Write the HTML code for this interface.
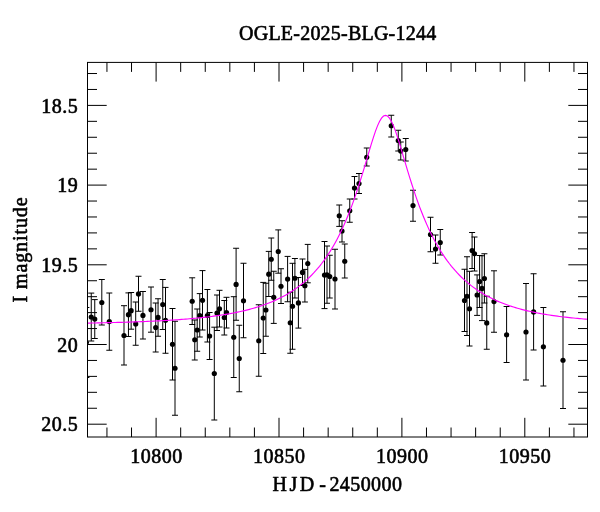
<!DOCTYPE html>
<html><head><meta charset="utf-8"><title>OGLE-2025-BLG-1244</title>
<style>
html,body{margin:0;padding:0;background:#fff;}
body{width:600px;height:512px;overflow:hidden;}
svg{display:block;}
text{font-family:"Liberation Serif","DejaVu Serif",serif;font-size:20px;fill:#000;stroke:#000;stroke-width:0.6px;stroke-linejoin:round;}
</style></head><body>
<svg width="600" height="512" viewBox="0 0 600 512">
<rect width="600" height="512" fill="#fff"/>
<defs><clipPath id="c"><rect x="87.5" y="62.4" width="500" height="374.6"/></clipPath></defs>
<path d="M106.94 437.00V427.50M106.94 62.40V71.90M131.52 437.00V427.50M131.52 62.40V71.90M156.10 437.00V417.80M156.10 62.40V81.60M180.68 437.00V427.50M180.68 62.40V71.90M205.26 437.00V427.50M205.26 62.40V71.90M229.84 437.00V427.50M229.84 62.40V71.90M254.42 437.00V427.50M254.42 62.40V71.90M279.00 437.00V417.80M279.00 62.40V81.60M303.58 437.00V427.50M303.58 62.40V71.90M328.16 437.00V427.50M328.16 62.40V71.90M352.74 437.00V427.50M352.74 62.40V71.90M377.32 437.00V427.50M377.32 62.40V71.90M401.90 437.00V417.80M401.90 62.40V81.60M426.48 437.00V427.50M426.48 62.40V71.90M451.06 437.00V427.50M451.06 62.40V71.90M475.64 437.00V427.50M475.64 62.40V71.90M500.22 437.00V427.50M500.22 62.40V71.90M524.80 437.00V417.80M524.80 62.40V81.60M549.38 437.00V427.50M549.38 62.40V71.90M573.96 437.00V427.50M573.96 62.40V71.90M87.50 73.52H97.00M587.50 73.52H578.00M87.50 89.46H97.00M587.50 89.46H578.00M87.50 105.40H106.70M587.50 105.40H568.30M87.50 121.34H97.00M587.50 121.34H578.00M87.50 137.28H97.00M587.50 137.28H578.00M87.50 153.22H97.00M587.50 153.22H578.00M87.50 169.16H97.00M587.50 169.16H578.00M87.50 185.10H106.70M587.50 185.10H568.30M87.50 201.04H97.00M587.50 201.04H578.00M87.50 216.98H97.00M587.50 216.98H578.00M87.50 232.92H97.00M587.50 232.92H578.00M87.50 248.86H97.00M587.50 248.86H578.00M87.50 264.80H106.70M587.50 264.80H568.30M87.50 280.74H97.00M587.50 280.74H578.00M87.50 296.68H97.00M587.50 296.68H578.00M87.50 312.62H97.00M587.50 312.62H578.00M87.50 328.56H97.00M587.50 328.56H578.00M87.50 344.50H106.70M587.50 344.50H568.30M87.50 360.44H97.00M587.50 360.44H578.00M87.50 376.38H97.00M587.50 376.38H578.00M87.50 392.32H97.00M587.50 392.32H578.00M87.50 408.26H97.00M587.50 408.26H578.00M87.50 424.20H106.70M587.50 424.20H568.30" stroke="#000" stroke-width="1" fill="none"/>
<g clip-path="url(#c)">
<path d="M86.40 307.50V377.50M83.40 307.50H89.40M83.40 377.50H89.40M91.25 293.10V341.00M88.25 293.10H94.25M88.25 341.00H94.25M94.75 299.60V338.50M91.75 299.60H97.75M91.75 338.50H97.75M101.80 279.50V325.00M98.80 279.50H104.80M98.80 325.00H104.80M109.30 293.00V350.25M106.30 293.00H112.30M106.30 350.25H112.30M124.00 305.70V365.00M121.00 305.70H127.00M121.00 365.00H127.00M128.45 292.90V336.50M125.45 292.90H131.45M125.45 336.50H131.45M131.15 292.50V329.20M128.15 292.50H134.15M128.15 329.20H134.15M135.70 302.00V345.25M132.70 302.00H138.70M132.70 345.25H138.70M138.50 276.25V311.25M135.50 276.25H141.50M135.50 311.25H141.50M142.95 291.50V339.00M139.95 291.50H145.95M139.95 339.00H145.95M151.00 287.00V332.20M148.00 287.00H154.00M148.00 332.20H154.00M155.70 303.00V352.00M152.70 303.00H158.70M152.70 352.00H158.70M158.05 298.75V336.25M155.05 298.75H161.05M155.05 336.25H161.05M162.75 279.50V329.50M159.75 279.50H165.75M159.75 329.50H165.75M165.50 287.40V353.25M162.50 287.40H168.50M162.50 353.25H168.50M172.50 308.50V380.00M169.50 308.50H175.50M169.50 380.00H175.50M175.00 321.25V415.25M172.00 321.25H178.00M172.00 415.25H178.00M192.20 277.80V324.50M189.20 277.80H195.20M189.20 324.50H195.20M194.75 320.00V360.00M191.75 320.00H197.75M191.75 360.00H197.75M197.20 309.00V351.25M194.20 309.00H200.20M194.20 351.25H200.20M199.75 293.60V337.00M196.75 293.60H202.75M196.75 337.00H202.75M202.50 270.60V330.00M199.50 270.60H205.50M199.50 330.00H205.50M207.40 289.50V342.00M204.40 289.50H210.40M204.40 342.00H210.40M209.60 312.50V359.50M206.60 312.50H212.60M206.60 359.50H212.60M214.30 327.20V420.00M211.30 327.20H217.30M211.30 420.00H217.30M217.00 295.00V330.50M214.00 295.00H220.00M214.00 330.50H220.00M219.50 290.30V327.00M216.50 290.30H222.50M216.50 327.00H222.50M224.30 300.50V335.00M221.30 300.50H227.30M221.30 335.00H227.30M226.50 297.30V328.00M223.50 297.30H229.50M223.50 328.00H229.50M233.75 296.70V377.50M230.75 296.70H236.75M230.75 377.50H236.75M236.10 248.25V320.25M233.10 248.25H239.10M233.10 320.25H239.10M239.25 325.25V391.75M236.25 325.25H242.25M236.25 391.75H242.25M243.50 263.25V337.75M240.50 263.25H246.50M240.50 337.75H246.50M258.75 304.75V376.25M255.75 304.75H261.75M255.75 376.25H261.75M263.25 282.40V353.50M260.25 282.40H266.25M260.25 353.50H266.25M265.90 283.25V336.25M262.90 283.25H268.90M262.90 336.25H268.90M268.75 251.40V296.50M265.75 251.40H271.75M265.75 296.50H271.75M271.25 238.00V280.25M268.25 238.00H274.25M268.25 280.25H274.25M273.75 271.25V323.40M270.75 271.25H276.75M270.75 323.40H276.75M278.25 229.90V273.20M275.25 229.90H281.25M275.25 273.20H281.25M281.00 268.75V303.50M278.00 268.75H284.00M278.00 303.50H284.00M287.60 256.40V301.75M284.60 256.40H290.60M284.60 301.75H290.60M290.25 292.25V353.25M287.25 292.25H293.25M287.25 353.25H293.25M292.50 263.30V349.25M289.50 263.30H295.50M289.50 349.25H295.50M294.90 258.50V298.00M291.90 258.50H297.90M291.90 298.00H297.90M298.40 277.50V328.10M295.40 277.50H301.40M295.40 328.10H301.40M302.50 259.00V285.50M299.50 259.00H305.50M299.50 285.50H305.50M304.90 269.40V302.00M301.90 269.40H307.90M301.90 302.00H307.90M307.75 244.40V282.80M304.75 244.40H310.75M304.75 282.80H310.75M324.50 241.50V308.60M321.50 241.50H327.50M321.50 308.60H327.50M327.00 246.00V303.25M324.00 246.00H330.00M324.00 303.25H330.00M329.75 255.25V298.00M326.75 255.25H332.75M326.75 298.00H332.75M335.00 249.25V309.00M332.00 249.25H338.00M332.00 309.00H338.00M339.25 205.00V226.40M336.25 205.00H342.25M336.25 226.40H342.25M342.00 220.75V242.00M339.00 220.75H345.00M339.00 242.00H345.00M344.75 244.00V278.00M341.75 244.00H347.75M341.75 278.00H347.75M349.75 199.00V222.25M346.75 199.00H352.75M346.75 222.25H352.75M354.50 176.50V199.00M351.50 176.50H357.50M351.50 199.00H357.50M359.00 173.50V193.50M356.00 173.50H362.00M356.00 193.50H362.00M366.75 148.00V166.00M363.75 148.00H369.75M363.75 166.00H369.75M391.25 115.25V137.00M388.25 115.25H394.25M388.25 137.00H394.25M398.25 130.25V151.00M395.25 130.25H401.25M395.25 151.00H401.25M400.75 142.00V160.00M397.75 142.00H403.75M397.75 160.00H403.75M405.75 138.50V161.00M402.75 138.50H408.75M402.75 161.00H408.75M413.00 190.25V221.25M410.00 190.25H416.00M410.00 221.25H416.00M430.50 217.25V251.75M427.50 217.25H433.50M427.50 251.75H433.50M435.50 235.00V263.25M432.50 235.00H438.50M432.50 263.25H438.50M440.25 229.50V255.00M437.25 229.50H443.25M437.25 255.00H443.25M464.50 269.25V331.50M461.50 269.25H467.50M461.50 331.50H467.50M467.00 256.75V335.50M464.00 256.75H470.00M464.00 335.50H470.00M469.50 271.30V346.00M466.50 271.30H472.50M466.50 346.00H472.50M472.10 232.50V268.50M469.10 232.50H475.10M469.10 268.50H475.10M474.50 237.00V271.00M471.50 237.00H477.50M471.50 271.00H477.50M477.10 274.90V315.40M474.10 274.90H480.10M474.10 315.40H480.10M479.60 255.50V307.50M476.60 255.50H482.60M476.60 307.50H482.60M482.00 255.75V320.60M479.00 255.75H485.00M479.00 320.60H485.00M484.40 253.75V303.00M481.40 253.75H487.40M481.40 303.00H487.40M486.75 296.25V349.25M483.75 296.25H489.75M483.75 349.25H489.75M494.00 270.80V332.25M491.00 270.80H497.00M491.00 332.25H497.00M506.60 306.50V362.50M503.60 306.50H509.60M503.60 362.50H509.60M526.00 283.50V380.00M523.00 283.50H529.00M523.00 380.00H529.00M533.60 273.75V350.00M530.60 273.75H536.60M530.60 350.00H536.60M543.40 307.50V386.00M540.40 307.50H546.40M540.40 386.00H546.40M563.00 311.75V408.50M560.00 311.75H566.00M560.00 408.50H566.00" stroke="#000" stroke-width="1" fill="none"/>
<circle cx="86.40" cy="342.50" r="2.6"/><circle cx="91.25" cy="317.00" r="2.6"/><circle cx="94.75" cy="319.00" r="2.6"/><circle cx="101.80" cy="302.50" r="2.6"/><circle cx="109.30" cy="321.60" r="2.6"/><circle cx="124.00" cy="335.50" r="2.6"/><circle cx="128.45" cy="314.70" r="2.6"/><circle cx="131.15" cy="310.70" r="2.6"/><circle cx="135.70" cy="323.90" r="2.6"/><circle cx="138.50" cy="293.90" r="2.6"/><circle cx="142.95" cy="315.40" r="2.6"/><circle cx="151.00" cy="309.75" r="2.6"/><circle cx="155.70" cy="327.60" r="2.6"/><circle cx="158.05" cy="317.40" r="2.6"/><circle cx="162.75" cy="304.50" r="2.6"/><circle cx="165.50" cy="320.25" r="2.6"/><circle cx="172.50" cy="344.25" r="2.6"/><circle cx="175.00" cy="368.25" r="2.6"/><circle cx="192.20" cy="301.25" r="2.6"/><circle cx="194.75" cy="339.75" r="2.6"/><circle cx="197.20" cy="330.00" r="2.6"/><circle cx="199.75" cy="315.50" r="2.6"/><circle cx="202.50" cy="300.30" r="2.6"/><circle cx="207.40" cy="315.50" r="2.6"/><circle cx="209.60" cy="336.00" r="2.6"/><circle cx="214.30" cy="373.50" r="2.6"/><circle cx="217.00" cy="313.00" r="2.6"/><circle cx="219.50" cy="308.75" r="2.6"/><circle cx="224.30" cy="317.50" r="2.6"/><circle cx="226.50" cy="312.50" r="2.6"/><circle cx="233.75" cy="337.25" r="2.6"/><circle cx="236.10" cy="284.40" r="2.6"/><circle cx="239.25" cy="358.50" r="2.6"/><circle cx="243.50" cy="300.75" r="2.6"/><circle cx="258.75" cy="340.75" r="2.6"/><circle cx="263.25" cy="318.00" r="2.6"/><circle cx="265.90" cy="310.00" r="2.6"/><circle cx="268.75" cy="274.20" r="2.6"/><circle cx="271.25" cy="259.25" r="2.6"/><circle cx="273.75" cy="297.25" r="2.6"/><circle cx="278.25" cy="251.50" r="2.6"/><circle cx="281.00" cy="286.25" r="2.6"/><circle cx="287.60" cy="279.10" r="2.6"/><circle cx="290.25" cy="322.75" r="2.6"/><circle cx="292.50" cy="306.25" r="2.6"/><circle cx="294.90" cy="278.25" r="2.6"/><circle cx="298.40" cy="302.90" r="2.6"/><circle cx="302.50" cy="272.40" r="2.6"/><circle cx="304.90" cy="285.75" r="2.6"/><circle cx="307.75" cy="263.50" r="2.6"/><circle cx="324.50" cy="275.10" r="2.6"/><circle cx="327.00" cy="274.75" r="2.6"/><circle cx="329.75" cy="276.50" r="2.6"/><circle cx="335.00" cy="279.00" r="2.6"/><circle cx="339.25" cy="215.75" r="2.6"/><circle cx="342.00" cy="231.00" r="2.6"/><circle cx="344.75" cy="261.25" r="2.6"/><circle cx="349.75" cy="210.75" r="2.6"/><circle cx="354.50" cy="188.00" r="2.6"/><circle cx="359.00" cy="183.50" r="2.6"/><circle cx="366.75" cy="157.25" r="2.6"/><circle cx="391.25" cy="125.75" r="2.6"/><circle cx="398.25" cy="140.50" r="2.6"/><circle cx="400.75" cy="151.00" r="2.6"/><circle cx="405.75" cy="149.50" r="2.6"/><circle cx="413.00" cy="205.60" r="2.6"/><circle cx="430.50" cy="234.50" r="2.6"/><circle cx="435.50" cy="249.00" r="2.6"/><circle cx="440.25" cy="242.50" r="2.6"/><circle cx="464.50" cy="300.50" r="2.6"/><circle cx="467.00" cy="296.25" r="2.6"/><circle cx="469.50" cy="308.75" r="2.6"/><circle cx="472.10" cy="250.50" r="2.6"/><circle cx="474.50" cy="253.80" r="2.6"/><circle cx="477.10" cy="295.00" r="2.6"/><circle cx="479.60" cy="281.50" r="2.6"/><circle cx="482.00" cy="288.40" r="2.6"/><circle cx="484.40" cy="278.50" r="2.6"/><circle cx="486.75" cy="322.90" r="2.6"/><circle cx="494.00" cy="301.60" r="2.6"/><circle cx="506.60" cy="334.75" r="2.6"/><circle cx="526.00" cy="332.00" r="2.6"/><circle cx="533.60" cy="311.90" r="2.6"/><circle cx="543.40" cy="346.75" r="2.6"/><circle cx="563.00" cy="360.25" r="2.6"/>
<path d="M87.5 323.10 L89.5 323.07 L91.5 323.03 L93.5 322.99 L95.5 322.95 L97.5 322.91 L99.5 322.87 L101.5 322.82 L103.5 322.78 L105.5 322.73 L107.5 322.69 L109.5 322.64 L111.5 322.59 L113.5 322.54 L115.5 322.49 L117.5 322.43 L119.5 322.38 L121.5 322.32 L123.5 322.26 L125.5 322.20 L127.5 322.14 L129.5 322.07 L131.5 322.00 L133.5 321.94 L135.5 321.86 L137.5 321.79 L139.5 321.72 L141.5 321.64 L143.5 321.56 L145.5 321.48 L147.5 321.39 L149.5 321.30 L151.5 321.21 L153.5 321.12 L155.5 321.02 L157.5 320.92 L159.5 320.82 L161.5 320.71 L163.5 320.60 L165.5 320.49 L167.5 320.37 L169.5 320.25 L171.5 320.12 L173.5 319.99 L175.5 319.86 L177.5 319.72 L179.5 319.58 L181.5 319.43 L183.5 319.27 L185.5 319.11 L187.5 318.95 L189.5 318.78 L191.5 318.60 L193.5 318.42 L195.5 318.23 L197.5 318.04 L199.5 317.83 L201.5 317.62 L203.5 317.41 L205.5 317.18 L207.5 316.95 L209.5 316.70 L211.5 316.45 L213.5 316.19 L215.5 315.92 L217.5 315.64 L219.5 315.35 L221.5 315.04 L223.5 314.73 L225.5 314.40 L227.5 314.06 L229.5 313.71 L231.5 313.35 L233.5 312.97 L235.5 312.57 L237.5 312.16 L239.5 311.73 L241.5 311.29 L243.5 310.83 L245.5 310.35 L247.5 309.85 L249.5 309.33 L251.5 308.79 L253.5 308.22 L255.5 307.64 L257.5 307.02 L259.5 306.39 L261.5 305.72 L263.5 305.03 L265.5 304.31 L267.5 303.56 L269.5 302.78 L271.5 301.96 L273.5 301.11 L275.5 300.22 L277.5 299.29 L279.5 298.32 L281.5 297.31 L283.5 296.25 L285.5 295.15 L287.5 294.00 L289.5 292.79 L291.5 291.53 L293.5 290.21 L295.5 288.83 L297.5 287.39 L299.5 285.89 L301.5 284.31 L303.5 282.66 L305.5 280.93 L307.5 279.12 L309.5 277.22 L311.5 275.23 L313.5 273.15 L315.5 270.96 L317.5 268.67 L319.5 266.27 L321.5 263.75 L323.5 261.10 L325.5 258.32 L327.5 255.41 L329.5 252.34 L331.5 249.13 L333.5 245.75 L335.5 242.20 L337.5 238.47 L339.5 234.55 L341.5 230.44 L343.5 226.12 L345.5 221.58 L347.5 216.82 L349.5 211.82 L351.5 206.59 L353.5 201.11 L355.5 195.40 L357.5 189.44 L359.5 183.26 L361.5 176.87 L363.5 170.30 L365.5 163.59 L367.5 156.81 L369.5 150.05 L371.5 143.42 L373.5 137.06 L375.5 131.14 L377.5 125.88 L379.5 121.48 L381.5 118.15 L383.5 116.07 L385.5 115.36 L387.5 116.07 L389.5 118.15 L391.5 121.48 L393.5 125.88 L395.5 131.14 L397.5 137.06 L399.5 143.42 L401.5 150.05 L403.5 156.81 L405.5 163.59 L407.5 170.30 L409.5 176.87 L411.5 183.26 L413.5 189.44 L415.5 195.40 L417.5 201.11 L419.5 206.59 L421.5 211.82 L423.5 216.82 L425.5 221.58 L427.5 226.12 L429.5 230.44 L431.5 234.55 L433.5 238.47 L435.5 242.20 L437.5 245.75 L439.5 249.13 L441.5 252.34 L443.5 255.41 L445.5 258.32 L447.5 261.10 L449.5 263.75 L451.5 266.27 L453.5 268.67 L455.5 270.96 L457.5 273.15 L459.5 275.23 L461.5 277.22 L463.5 279.12 L465.5 280.93 L467.5 282.66 L469.5 284.31 L471.5 285.89 L473.5 287.39 L475.5 288.83 L477.5 290.21 L479.5 291.53 L481.5 292.79 L483.5 294.00 L485.5 295.15 L487.5 296.25 L489.5 297.31 L491.5 298.32 L493.5 299.29 L495.5 300.22 L497.5 301.11 L499.5 301.96 L501.5 302.78 L503.5 303.56 L505.5 304.31 L507.5 305.03 L509.5 305.72 L511.5 306.39 L513.5 307.02 L515.5 307.64 L517.5 308.22 L519.5 308.79 L521.5 309.33 L523.5 309.85 L525.5 310.35 L527.5 310.83 L529.5 311.29 L531.5 311.73 L533.5 312.16 L535.5 312.57 L537.5 312.97 L539.5 313.35 L541.5 313.71 L543.5 314.06 L545.5 314.40 L547.5 314.73 L549.5 315.04 L551.5 315.35 L553.5 315.64 L555.5 315.92 L557.5 316.19 L559.5 316.45 L561.5 316.70 L563.5 316.95 L565.5 317.18 L567.5 317.41 L569.5 317.62 L571.5 317.83 L573.5 318.04 L575.5 318.23 L577.5 318.42 L579.5 318.60 L581.5 318.78 L583.5 318.95 L585.5 319.11 L587.5 319.27" stroke="#ff00ff" stroke-width="1.15" fill="none"/>
</g>
<rect x="87.5" y="62.4" width="500" height="374.6" fill="none" stroke="#000" stroke-width="1"/>
<text x="239.1" y="40.4" letter-spacing="0.22">OGLE-2025-BLG-1244</text>
<text x="156.4" y="463" text-anchor="middle" letter-spacing="0.5">10800</text>
<text x="279.3" y="463" text-anchor="middle" letter-spacing="0.5">10850</text>
<text x="402.2" y="463" text-anchor="middle" letter-spacing="0.5">10900</text>
<text x="525.1" y="463" text-anchor="middle" letter-spacing="0.5">10950</text>
<text x="78.2" y="112.5" text-anchor="end" letter-spacing="0.5">18.5</text>
<text x="78.2" y="192.2" text-anchor="end" letter-spacing="0.5">19</text>
<text x="78.2" y="271.9" text-anchor="end" letter-spacing="0.5">19.5</text>
<text x="78.2" y="351.6" text-anchor="end" letter-spacing="0.5">20</text>
<text x="78.2" y="431.3" text-anchor="end" letter-spacing="0.5">20.5</text>
<text y="491.2"><tspan x="272.6" letter-spacing="2.5">HJD</tspan><tspan x="319.2">-</tspan><tspan x="329.4" letter-spacing="0.42">2450000</tspan></text>
<text transform="translate(27,249.5) rotate(-90)" text-anchor="middle" letter-spacing="0.9">I magnitude</text>
</svg>
</body></html>
